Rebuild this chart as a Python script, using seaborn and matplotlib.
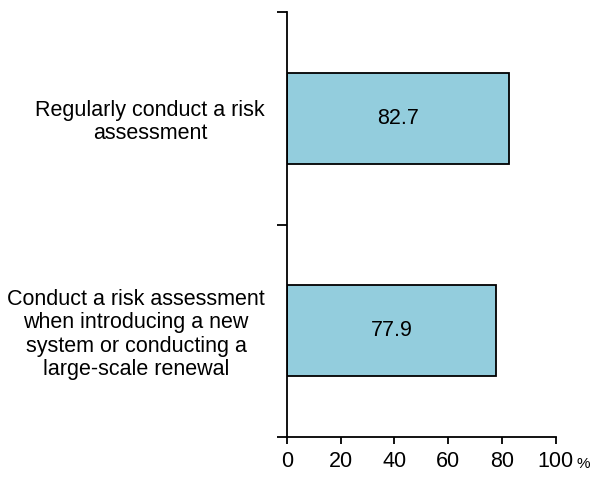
import matplotlib
matplotlib.use("Agg")
import matplotlib.pyplot as plt
import seaborn as sns
import pandas as pd
from matplotlib.ticker import FixedLocator

categories = [
    "Regularly conduct a risk\nassessment",
    "Conduct a risk assessment\nwhen introducing a new\nsystem or conducting a\nlarge-scale renewal",
]
values = [82.7, 77.9]
x_ticks = [0, 20, 40, 60, 80, 100]

sns.set_style("white")
plt.rcParams["font.family"] = ["Liberation Sans", "DejaVu Sans"]
plt.rcParams["text.color"] = "black"
plt.rcParams["xtick.color"] = "black"
plt.rcParams["ytick.color"] = "black"

df = pd.DataFrame({"category": categories, "value": values})

fig = plt.figure(figsize=(5.98, 4.78), dpi=100)
ax = fig.add_axes([0.48, 0.0858, 0.449, 0.889])

sns.barplot(data=df, x="value", y="category", orient="h", color="#93CDDD",
            edgecolor="black", linewidth=1.3, width=0.43, saturation=1, ax=ax)

for c in ax.containers:
    ax.bar_label(c, labels=[f"{v:.1f}" for v in values], label_type="center",
                 fontsize=15.5, color="black")

ax.set_xlim(0, 100)
ax.set_ylim(1.5, -0.5)
ax.set_xticks(x_ticks)
ax.set_xticklabels([str(t) for t in x_ticks], fontsize=15.5, color="black")
ax.set_yticks(range(len(categories)))
ax.set_yticklabels(categories, fontsize=15.5, ha="right", multialignment="center",
                   linespacing=1.15, color="black")
ax.yaxis.set_minor_locator(FixedLocator([-0.5, 0.5, 1.5]))
ax.tick_params(axis="y", which="major", length=0, pad=16)
ax.tick_params(axis="y", which="minor", length=7, width=1.3, color="black", direction="out", left=True)
ax.tick_params(axis="x", which="major", length=5, width=1.3, color="black", direction="out",
               bottom=True, pad=5)
ax.set_xlabel("")
ax.set_ylabel("")

for s in ["top", "right"]:
    ax.spines[s].set_visible(False)
for s in ["left", "bottom"]:
    ax.spines[s].set_color("black")
    ax.spines[s].set_linewidth(1.3)

ax.text(1.102, -0.073, "%", transform=ax.transAxes, fontsize=11,
        ha="center", va="baseline", color="black")

fig.savefig("out.png", dpi=100)
